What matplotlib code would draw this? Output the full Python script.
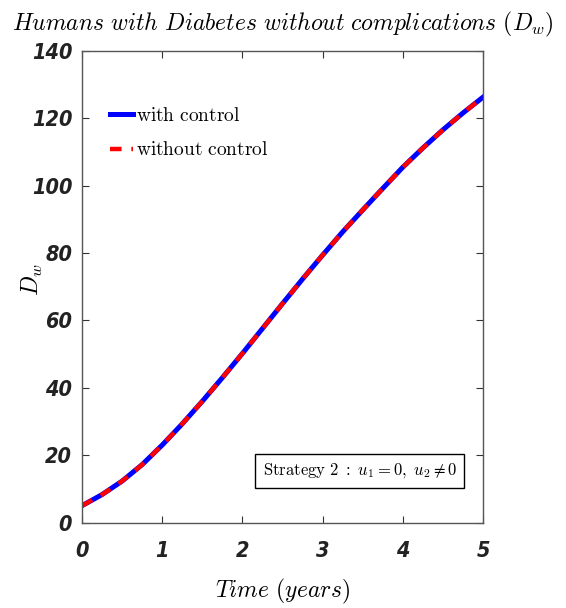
import numpy as np
import matplotlib
matplotlib.use('Agg')
import matplotlib.pyplot as plt

plt.rcParams['mathtext.fontset'] = 'cm'

# values
time = [0, 0.25, 0.5, 0.75, 1.0, 1.25, 1.5, 1.75, 2.0, 2.25, 2.5,
        2.75, 3.0, 3.25, 3.5, 3.75, 4.0, 4.25, 4.5, 4.75, 5.0]
dw_control = [5.0, 8.3, 12.3, 17.2, 23.0, 29.3, 36.0, 43.0, 50.2, 57.6, 65.0,
              72.3, 79.4, 86.3, 92.8, 99.2, 105.5, 111.2, 116.6, 121.6, 126.3]
dw_no_control = [5.0, 8.3, 12.3, 17.2, 23.0, 29.3, 36.0, 43.0, 50.2, 57.6, 65.0,
                 72.3, 79.4, 86.3, 92.8, 99.2, 105.5, 111.2, 116.6, 121.6, 126.3]
xticks = [0, 1, 2, 3, 4, 5]
yticks = [0, 20, 40, 60, 80, 100, 120, 140]

fig = plt.figure(figsize=(5.66, 6.08), dpi=100)
ax = fig.add_axes([0.1449, 0.1406, 0.7085, 0.7755])

ax.plot(time, dw_control, color='blue', lw=3.6, label=r'$\mathrm{with\ control}$')
ax.plot(time, dw_no_control, color='red', lw=3.2, dashes=(2.6, 2.2),
        label=r'$\mathrm{without\ control}$')

ax.set_xlim(0, 5)
ax.set_ylim(0, 140)
ax.set_xticks(xticks)
ax.set_yticks(yticks)
ax.tick_params(direction='in', top=True, right=True, length=5, width=0.8,
               color='#333333')
ax.tick_params(axis='x', pad=13)
ax.tick_params(axis='y', pad=7)
for s in ax.spines.values():
    s.set_color('#555555')
    s.set_linewidth(1.0)
for lab in ax.get_xticklabels() + ax.get_yticklabels():
    lab.set_family('DejaVu Sans')
    lab.set_stretch('condensed')
    lab.set_weight('bold')
    lab.set_style('italic')
    lab.set_fontsize(15.5)
    lab.set_color('#222222')

ax.set_title(r'$Humans\ with\ Diabetes\ without\ complications\ (D_w)$',
             fontsize=17, pad=15)
ax.set_xlabel(r'$Time\ (years)$', fontsize=17)
ax.xaxis.set_label_coords(0.5, -0.115)
ax.set_ylabel(r'$D_w$', fontsize=17)
ax.yaxis.set_label_coords(-0.093, 0.515)

leg = ax.legend(loc='upper left', bbox_to_anchor=(0.025, 0.92), frameon=False,
                fontsize=14, handlelength=1.2, handletextpad=0.15, labelspacing=0.78)

ax.text(0.935, 0.11, r'$\mathrm{Strategy\ 2\ :}\ u_1=0,\ u_2\neq 0$', transform=ax.transAxes,
        fontsize=12, ha='right', va='center',
        bbox=dict(boxstyle='square,pad=0.45', fc='white', ec='black', lw=1.0))

fig.savefig('out.png', dpi=100)
